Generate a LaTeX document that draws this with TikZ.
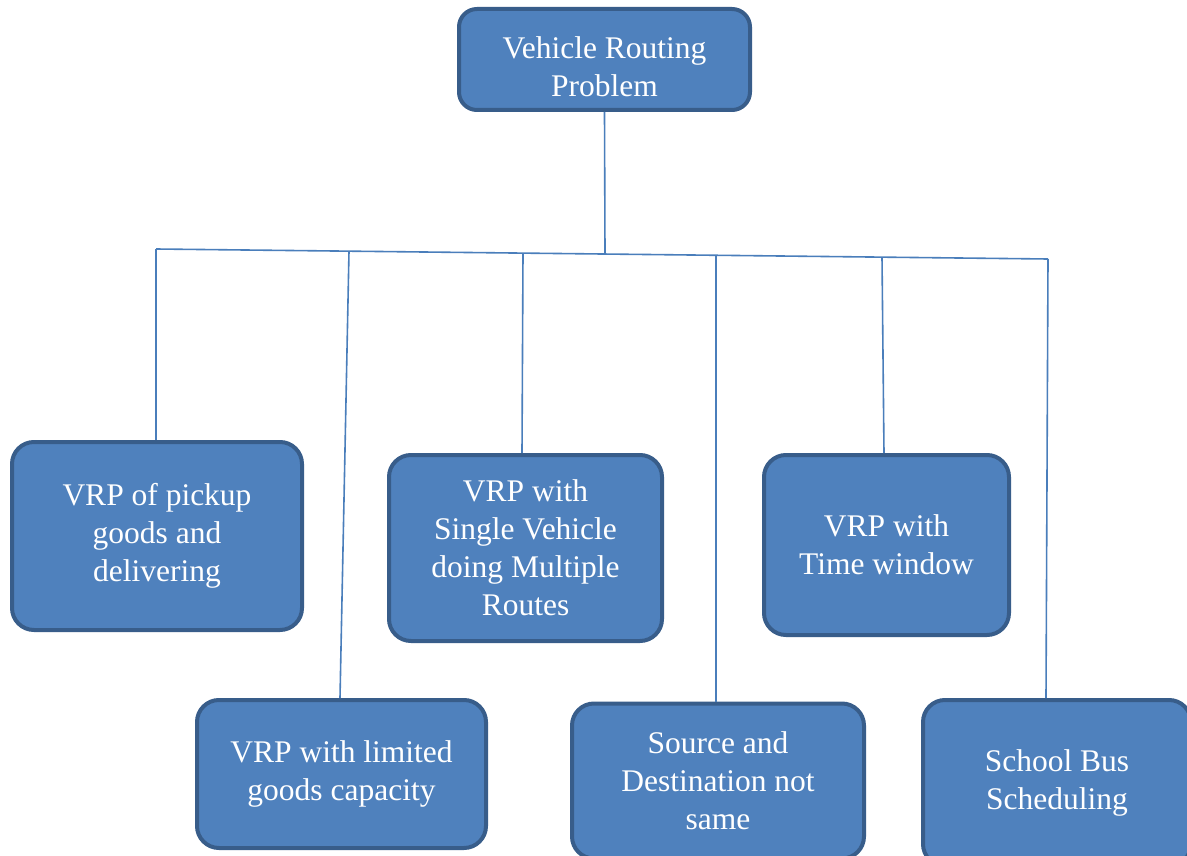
\documentclass[tikz,border=0pt]{standalone}
\usepackage{fontspec}
\setmainfont{Liberation Serif}
\definecolor{boxfill}{HTML}{4F81BD}
\definecolor{boxedge}{HTML}{385D8A}
\definecolor{linkc}{HTML}{4A7EBB}
\tikzset{
  vbox/.style={draw=boxedge, line width=4pt, fill=boxfill, rounded corners=22pt,
    text=white, align=center, inner sep=0pt,
    font=\fontsize{31.5}{38}\selectfont},
  link/.style={draw=linkc, line width=1.6pt}
}
\begin{document}
\begin{tikzpicture}[x=1pt,y=-1pt]
\clip (0,0) rectangle (1187,856);
\fill[white] (0,0) rectangle (1187,856);

\node[vbox, minimum width=291pt, minimum height=101pt, rounded corners=18pt] (top) at (604.5,59.5) {\rule{0pt}{36pt}Vehicle Routing\\Problem};
\node[vbox, minimum width=290pt, minimum height=188pt] (b1) at (157,536) {VRP of pickup\\goods and\\delivering};
\node[vbox, minimum width=289pt, minimum height=148pt] (b2) at (341.5,774) {VRP with limited\\goods capacity};
\node[vbox, minimum width=273pt, minimum height=186pt] (b3) at (525.5,548) {VRP with\\Single Vehicle\\doing Multiple\\Routes};
\node[vbox, minimum width=292pt, minimum height=155pt] (b4) at (718,781) {Source and\\Destination not\\same};
\node[vbox, minimum width=245pt, minimum height=180pt] (b5) at (886.5,545) {VRP with\\Time window};
\node[vbox, minimum width=268pt, minimum height=166pt] (b6) at (1057,783) {School Bus\\Scheduling};

\coordinate (hL) at (156,249);
\coordinate (hR) at (1048,259);
\coordinate (j0) at (605,254);
\coordinate (j2) at (349,251.2);
\coordinate (j3) at (523,253.1);
\coordinate (j4) at (716,255.3);
\coordinate (j5) at (882,257.1);

\draw[link] (hL) -- (hR);
\draw[link] (top.south) -- (j0);
\draw[link] (hL) -- ([xshift=-1pt]b1.north);
\draw[link] (j2) -- ([xshift=-1.5pt]b2.north);
\draw[link] (j3) -- ([xshift=-3.5pt]b3.north);
\draw[link] (j4) -- ([xshift=-2pt]b4.north);
\draw[link] (j5) -- ([xshift=-2.5pt]b5.north);
\draw[link] (hR) -- ([xshift=-11pt]b6.north);
\end{tikzpicture}
\end{document}
